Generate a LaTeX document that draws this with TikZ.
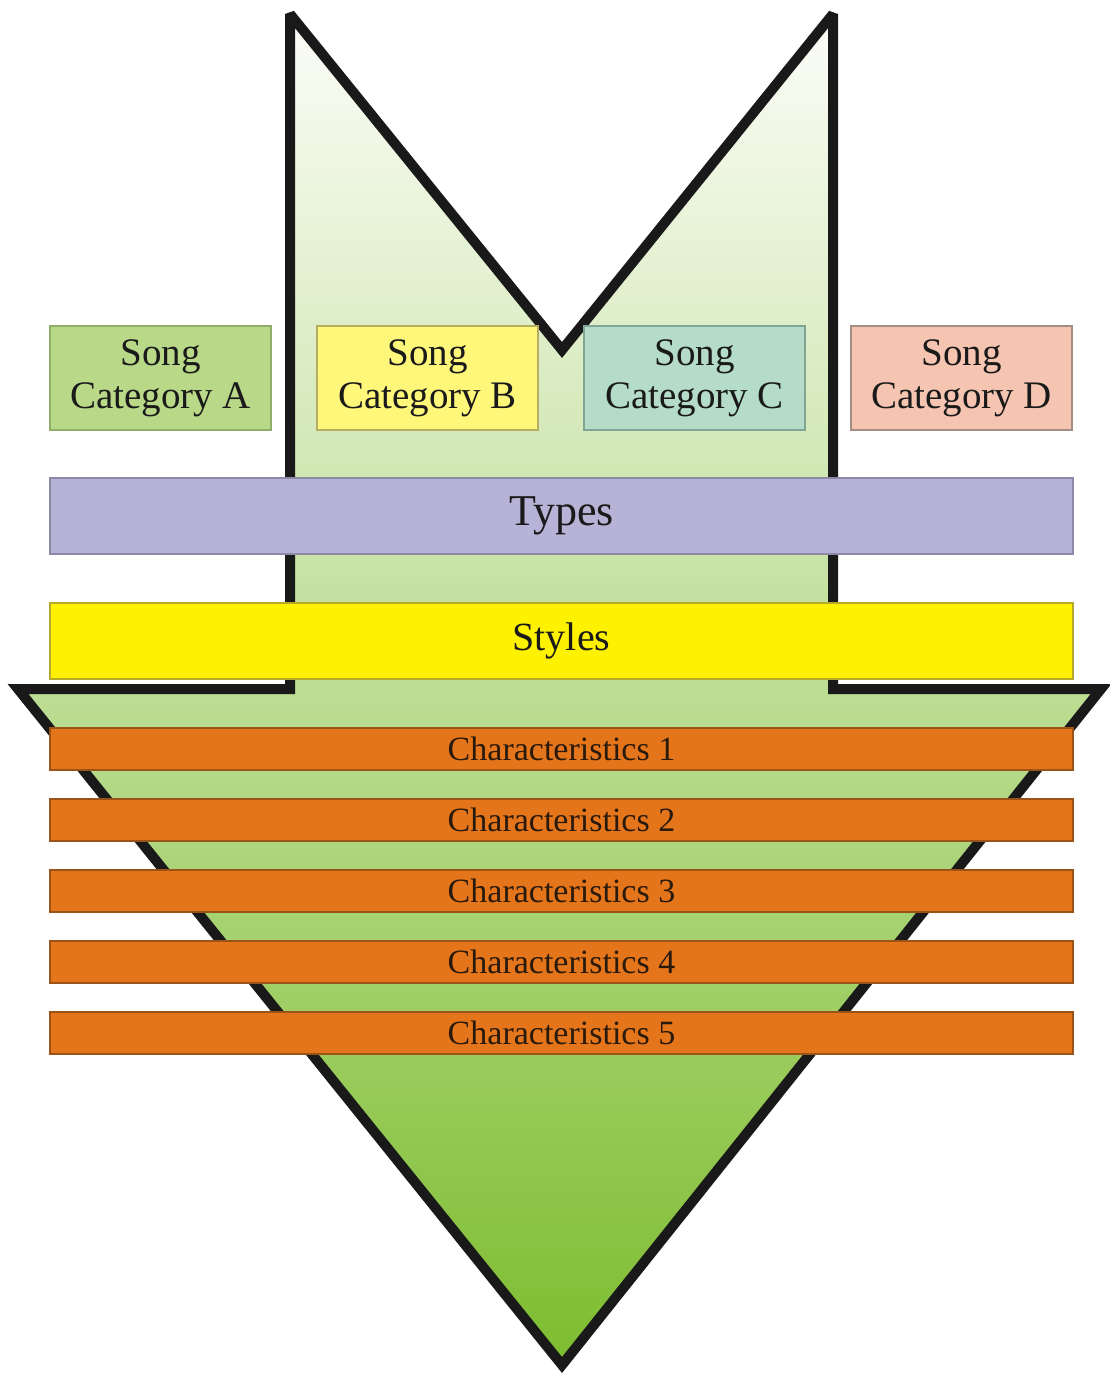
\documentclass[tikz,border=0pt]{standalone}
\usepackage{fontspec}
\setmainfont{Liberation Serif}
\definecolor{arrowtop}{HTML}{FCFDF8}
\definecolor{arrowbot}{HTML}{7DBD2F}
\definecolor{catA}{HTML}{B9D988}
\definecolor{catAb}{HTML}{8FAE6C}
\definecolor{catB}{HTML}{FFF77A}
\definecolor{catBb}{HTML}{B5AE62}
\definecolor{catC}{HTML}{B4DCC8}
\definecolor{catCb}{HTML}{80A595}
\definecolor{catD}{HTML}{F6C5B2}
\definecolor{catDb}{HTML}{A38E86}
\definecolor{typesc}{HTML}{B7B3D6}
\definecolor{typesb}{HTML}{8C89A8}
\definecolor{stylesc}{HTML}{FFF200}
\definecolor{stylesb}{HTML}{B7AA2A}
\definecolor{charc}{HTML}{E5751A}
\definecolor{charb}{HTML}{9A5418}
\definecolor{txt}{HTML}{1A1A1A}
\definecolor{chartxt}{HTML}{2A1A0C}
\begin{document}
\begin{tikzpicture}[x=1pt,y=-1pt,
  box/.style={draw, line width=1.2pt, inner sep=0pt, align=center, text=txt},
  catbox/.style={box, minimum width=221pt, minimum height=104pt,
    font=\fontsize{39pt}{43pt}\selectfont},
  widebox/.style={box, minimum width=1023pt, minimum height=76pt},
  charbox/.style={box, fill=charc, draw=charb, minimum width=1023pt, minimum height=42pt,
    text=chartxt, font=\fontsize{34pt}{36pt}\selectfont},
  outline/.style={line width=10pt, draw=black!90, line join=miter, miter limit=2.5}
]
\useasboundingbox (0,0) rectangle (1109,1376);

% big arrow
\path[outline, top color=arrowtop, bottom color=arrowbot]
  (290,14) -- (562,350) -- (833,14) -- (833,689) -- (1101,689)
  -- (562,1365) -- (18,689) -- (290,689) -- cycle;

% category boxes
\node[catbox, fill=catA, draw=catAb] (ca) at (160.5,378) {Song\\Category A};
\node[catbox, fill=catB, draw=catBb] (cb) at (427.5,378) {Song\\Category B};
\node[catbox, fill=catC, draw=catCb] (cc) at (694.5,378) {Song\\Category C};
\node[catbox, fill=catD, draw=catDb] (cd) at (961.5,378) {Song\\Category D};

% wide bars
\node[widebox, fill=typesc, draw=typesb, font=\fontsize{44pt}{48pt}\selectfont] (types) at (561.5,516) {Types};
\node[widebox, fill=stylesc, draw=stylesb, font=\fontsize{40pt}{44pt}\selectfont] (styles) at (561.5,641) {Styles};

% characteristics
\node[charbox] (ch1) at (561.5,749) {Characteristics 1};
\node[charbox] (ch2) at (561.5,820) {Characteristics 2};
\node[charbox] (ch3) at (561.5,891) {Characteristics 3};
\node[charbox] (ch4) at (561.5,962) {Characteristics 4};
\node[charbox] (ch5) at (561.5,1033) {Characteristics 5};
\end{tikzpicture}
\end{document}
